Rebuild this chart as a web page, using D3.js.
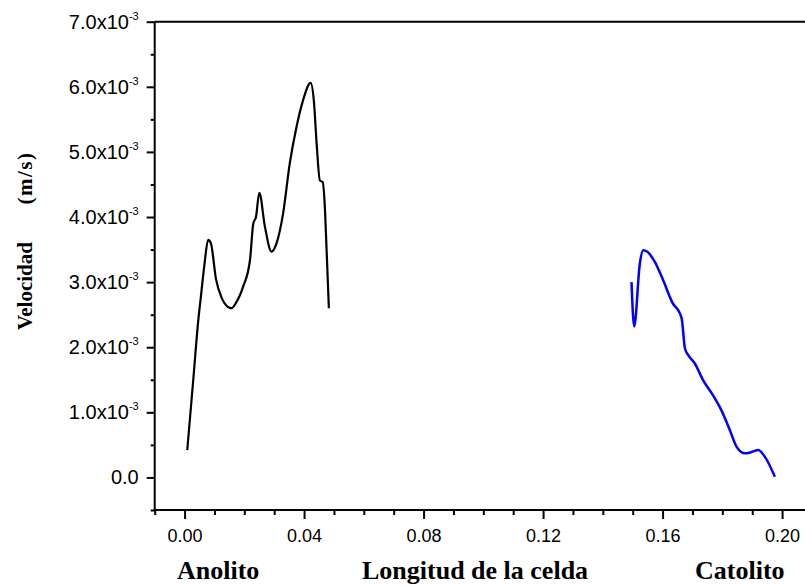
<!DOCTYPE html>
<html>
<head>
<meta charset="utf-8">
<script src="https://cdn.jsdelivr.net/npm/d3@7"></script>
<style>
  body { margin: 0; background: #fff; }
  svg { display: block; }
</style>
</head>
<body>
<div id="chart"></div>
<script>
// Anolito side (black), position in m, velocity in m/s
var anolitoX = [0.0009, 0.0030, 0.0046, 0.0054, 0.0066, 0.0079, 0.0088, 0.0105, 0.0125, 0.0145, 0.0157, 0.0172, 0.0196, 0.0219, 0.0230,
  0.0239, 0.0250, 0.0269, 0.0291, 0.0308, 0.0330, 0.0352, 0.0375, 0.0397, 0.0422, 0.0433, 0.0442, 0.0453, 0.0462, 0.0470, 0.0475, 0.0483];
var anolitoV = [0.42e-3, 1.55e-3, 2.42e-3, 2.75e-3, 3.25e-3, 3.65e-3, 3.60e-3, 3.05e-3, 2.75e-3, 2.62e-3, 2.60e-3, 2.68e-3, 2.93e-3, 3.34e-3, 3.90e-3,
  4.00e-3, 4.37e-3, 3.85e-3, 3.47e-3, 3.60e-3, 4.06e-3, 4.82e-3, 5.39e-3, 5.80e-3, 6.06e-3, 5.77e-3, 5.13e-3, 4.56e-3, 4.54e-3, 4.11e-3, 3.54e-3, 2.60e-3];

// Catolito side (blue)
var catolitoX = [0.1496, 0.1505, 0.1524, 0.1535, 0.1548, 0.1574, 0.1602, 0.1636, 0.1652, 0.1664, 0.1675, 0.1686, 0.1708, 0.1736, 0.1769,
  0.1797, 0.1825, 0.1848, 0.1876, 0.1898, 0.1920, 0.1942, 0.1976];
var catolitoV = [3.00e-3, 2.32e-3, 3.29e-3, 3.49e-3, 3.47e-3, 3.31e-3, 3.03e-3, 2.66e-3, 2.57e-3, 2.44e-3, 1.98e-3, 1.88e-3, 1.75e-3, 1.49e-3, 1.26e-3,
  1.03e-3, 0.73e-3, 0.47e-3, 0.37e-3, 0.39e-3, 0.42e-3, 0.32e-3, 0.01e-3];

var xTicks = [0.00, 0.04, 0.08, 0.12, 0.16, 0.20];
var xTickLabels = ["0.00", "0.04", "0.08", "0.12", "0.16", "0.20"];
var yTicks = [0, 1e-3, 2e-3, 3e-3, 4e-3, 5e-3, 6e-3, 7e-3];
var yTickLabels = ["0.0", "1.0", "2.0", "3.0", "4.0", "5.0", "6.0", "7.0"];
var xMinorTicks = [-0.01, 0.01, 0.02, 0.03, 0.05, 0.06, 0.07, 0.09, 0.10, 0.11, 0.13, 0.14, 0.15, 0.17, 0.18, 0.19, 0.21];
var yMinorTicks = [-0.5e-3, 0.5e-3, 1.5e-3, 2.5e-3, 3.5e-3, 4.5e-3, 5.5e-3, 6.5e-3];

// GLOBAL CONFIGS
var w = 805;
var h = 585;
var plotLeft = 154.7;
var plotTop = 21.7;
var plotBottom = 510;
var tickFont = "'Liberation Sans', Arial, sans-serif";
var titleFont = "'Liberation Serif', 'Times New Roman', serif";

var svg = d3.select("#chart")
  .append("svg")
  .attr("width", w)
  .attr("height", h);

var x = d3.scaleLinear()
  .domain([-0.01, 0.21])
  .range([plotLeft, plotLeft + 0.22 * 2987.5]);

var y = d3.scaleLinear()
  .domain([-0.5e-3, 7e-3])
  .range([plotBottom, plotTop]);

// Minor ticks
svg.append("g")
  .attr("transform", "translate(0," + plotBottom + ")")
  .call(d3.axisBottom(x).tickValues(xMinorTicks).tickSize(5).tickFormat(""))
  .call(function(g) { g.select(".domain").remove(); })
  .selectAll("line").attr("stroke-width", 2);

svg.append("g")
  .attr("transform", "translate(" + plotLeft + ",0)")
  .call(d3.axisLeft(y).tickValues(yMinorTicks).tickSize(4).tickFormat(""))
  .call(function(g) { g.select(".domain").remove(); })
  .selectAll("line").attr("stroke-width", 2);

// Major x axis
var xAxis = svg.append("g")
  .attr("transform", "translate(0," + plotBottom + ")")
  .call(d3.axisBottom(x)
    .tickValues(xTicks)
    .tickSize(9)
    .tickPadding(10)
    .tickFormat(function(d, i) { return xTickLabels[i]; }));
xAxis.select(".domain").attr("d", "M" + plotLeft + ",0H" + w).attr("stroke-width", 2);
xAxis.selectAll("line").attr("stroke-width", 2);
xAxis.selectAll("text")
  .attr("font-family", tickFont)
  .attr("font-size", 18)
  .attr("fill", "#000");

// Major y axis
var yAxis = svg.append("g")
  .attr("transform", "translate(" + plotLeft + ",0)")
  .call(d3.axisLeft(y)
    .tickValues(yTicks)
    .tickSize(8)
    .tickPadding(8)
    .tickFormat(function(d, i) { return yTickLabels[i]; }));
yAxis.select(".domain").attr("d", "M0," + y(7e-3) + "V" + plotBottom).attr("stroke-width", 2);
yAxis.selectAll("line").attr("stroke-width", 2);
yAxis.selectAll("text")
  .attr("font-family", tickFont)
  .attr("font-size", 20)
  .attr("fill", "#000")
  .each(function(d, i) {
    if (d == 0) return;
    var t = d3.select(this);
    t.text(yTickLabels[i] + "x10");
    t.append("tspan")
      .attr("font-size", 11)
      .attr("dy", "-0.8em")
      .text("-3");
  });

// Top frame line
svg.append("line")
  .attr("x1", plotLeft)
  .attr("x2", w)
  .attr("y1", y(7e-3))
  .attr("y2", y(7e-3))
  .attr("stroke", "black")
  .attr("stroke-width", 2);

// Curves
var line = d3.line()
  .x(function(d) { return x(d[0]); })
  .y(function(d) { return y(d[1]); })
  .curve(d3.curveMonotoneX);

svg.append("path")
  .datum(d3.zip(anolitoX, anolitoV))
  .attr("d", line)
  .attr("fill", "none")
  .attr("stroke", "#000")
  .attr("stroke-width", 2.2);

svg.append("path")
  .datum(d3.zip(catolitoX, catolitoV))
  .attr("d", line)
  .attr("fill", "none")
  .attr("stroke", "#0000ff")
  .attr("stroke-width", 2.5);

// Axis titles
var titles = [
  {"text": "Anolito", "x": 177},
  {"text": "Longitud de la celda", "x": 362},
  {"text": "Catolito", "x": 695}
];
svg.selectAll("xtitle")
  .data(titles)
  .enter()
  .append("text")
  .text(function(d) { return d.text; })
  .attr("x", function(d) { return d.x; })
  .attr("y", 579)
  .attr("font-family", titleFont)
  .attr("font-size", 26)
  .attr("font-weight", "bold");

var yTitles = [
  {"text": "Velocidad", "y": 286, "ls": 0},
  {"text": "(m/s)", "y": 178, "ls": 1.5}
];
svg.selectAll("ytitle")
  .data(yTitles)
  .enter()
  .append("text")
  .text(function(d) { return d.text; })
  .attr("transform", function(d) { return "translate(31.5," + d.y + ") rotate(-90)"; })
  .attr("text-anchor", "middle")
  .attr("font-family", titleFont)
  .attr("font-size", 21)
  .attr("font-weight", "bold")
  .attr("letter-spacing", function(d) { return d.ls; });
</script>
</body>
</html>
